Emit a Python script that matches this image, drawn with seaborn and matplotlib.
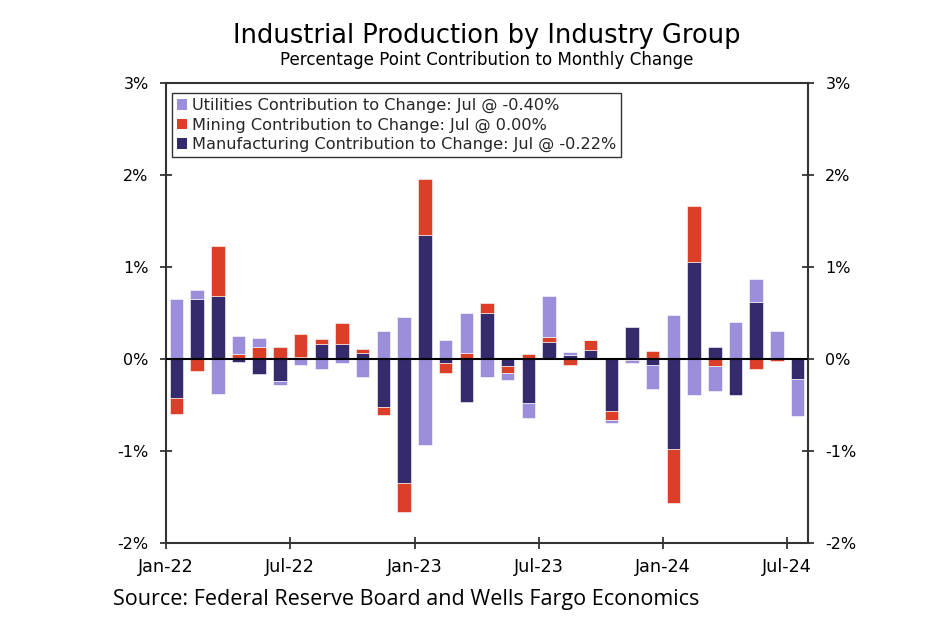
import matplotlib
matplotlib.use("Agg")
import matplotlib.pyplot as plt
from matplotlib.patches import Patch
import numpy as np
import pandas as pd
import seaborn as sns

months = ["Jan-22", "Feb-22", "Mar-22", "Apr-22", "May-22", "Jun-22", "Jul-22", "Aug-22",
          "Sep-22", "Oct-22", "Nov-22", "Dec-22", "Jan-23", "Feb-23", "Mar-23", "Apr-23",
          "May-23", "Jun-23", "Jul-23", "Aug-23", "Sep-23", "Oct-23", "Nov-23", "Dec-23",
          "Jan-24", "Feb-24", "Mar-24", "Apr-24", "May-24", "Jun-24", "Jul-24"]

manufacturing = [-0.42, 0.655, 0.69, -0.03, -0.16, -0.24, 0.025, 0.165, 0.165, 0.06, -0.525, -1.345,
                 1.35, -0.04, -0.47, 0.50, -0.08, -0.48, 0.185, 0.04, 0.10, -0.56, 0.345, -0.065,
                 -0.975, 1.055, 0.13, -0.395, 0.615, 0.0, -0.22]
mining = [-0.18, -0.125, 0.535, 0.05, 0.135, 0.135, 0.25, 0.055, 0.225, 0.05, -0.085, -0.315,
          0.61, -0.11, 0.06, 0.11, -0.07, 0.055, 0.05, -0.06, 0.11, -0.10, -0.01, 0.085,
          -0.59, 0.61, -0.08, 0.0, -0.105, -0.02, 0.0]
utilities = [0.65, 0.09, -0.38, 0.20, 0.09, -0.04, -0.06, -0.11, -0.04, -0.195, 0.30, 0.46,
             -0.94, 0.21, 0.445, -0.20, -0.08, -0.165, 0.45, 0.035, 0.0, -0.04, -0.03, -0.26,
             0.48, -0.39, -0.265, 0.40, 0.255, 0.30, -0.40]

series_names = ["Manufacturing", "Mining", "Utilities"]
legend_labels = ["Utilities Contribution to Change: Jul @ -0.40%",
                 "Mining Contribution to Change: Jul @ 0.00%",
                 "Manufacturing Contribution to Change: Jul @ -0.22%"]
tick_labels = ["Jan-22", "Jul-22", "Jan-23", "Jul-23", "Jan-24", "Jul-24"]
y_ticks = [-2, -1, 0, 1, 2, 3]

colors = {"Manufacturing": "#352A6B", "Mining": "#DB3F28", "Utilities": "#9C8EDB"}

sns.set_theme(style="white")
plt.rcParams["font.family"] = ["DejaVu Sans"]

fig = plt.figure(figsize=(9.5, 6.3), dpi=100)
ax = fig.add_axes([166 / 950, 1 - 543 / 630, (808 - 166) / 950, (543 - 83) / 630])

values = {"Manufacturing": np.array(manufacturing), "Mining": np.array(mining),
          "Utilities": np.array(utilities)}
pos_base = np.zeros(len(months))
neg_base = np.zeros(len(months))
for name in series_names:
    v = values[name]
    bottoms = np.where(v >= 0, pos_base, neg_base)
    df = pd.DataFrame({"month": months, "value": v})
    sns.barplot(data=df, x="month", y="value", order=months, color=colors[name],
                saturation=1, width=0.65, bottom=bottoms, ax=ax,
                edgecolor="white", linewidth=0.4, errorbar=None)
    pos_base = pos_base + np.where(v > 0, v, 0)
    neg_base = neg_base + np.where(v < 0, v, 0)

ax.axhline(0, color="black", lw=1.5, zorder=5)
ax.set_xlim(-0.5, len(months) - 0.5)
ax.set_ylim(-2, 3)
ax.set_xlabel("")
ax.set_ylabel("")

tick_pos = [months.index(t) - 0.5 for t in tick_labels]
ax.set_xticks(tick_pos)
ax.set_xticklabels(tick_labels, fontsize=12.7)
ax.set_yticks(y_ticks)
ax.set_yticklabels([f"{t}%" for t in y_ticks], fontsize=11.5)
ax.tick_params(axis="both", direction="inout", length=9, width=1.2, color="#222222",
               labelcolor="black")
ax.tick_params(axis="y", pad=8, left=True, right=True, labelleft=True, labelright=True)
ax.tick_params(axis="x", pad=6, bottom=True)
for s in ax.spines.values():
    s.set_color("#333333")
    s.set_linewidth(1.5)
ax.grid(False)

handles = [Patch(facecolor=colors[n], edgecolor="none") for n in ["Utilities", "Mining", "Manufacturing"]]
leg = fig.legend(handles, legend_labels, loc="upper left",
                 bbox_to_anchor=(172 / 950, 1 - 93 / 630), fontsize=11.6,
                 frameon=True, fancybox=False, handlelength=0.65, handleheight=0.65,
                 handletextpad=0.3, labelspacing=0.28, borderpad=0.3, borderaxespad=0)
leg.get_frame().set_edgecolor("black")
leg.get_frame().set_linewidth(1.0)

cx = (166 + 808) / 2 / 950
fig.text(cx, 1 - 36 / 630, "Industrial Production by Industry Group", ha="center", va="center",
         fontsize=18.5, color="black")
fig.text(cx, 1 - 60 / 630, "Percentage Point Contribution to Monthly Change", ha="center",
         va="center", fontsize=12.1, color="black")
fig.text(113 / 950, 1 - 600 / 630, "Source: Federal Reserve Board and Wells Fargo Economics",
         ha="left", va="center", fontsize=15.5, family=["Open Sans", "DejaVu Sans"], color="black")

fig.savefig("out.png", dpi=100, facecolor="white")
